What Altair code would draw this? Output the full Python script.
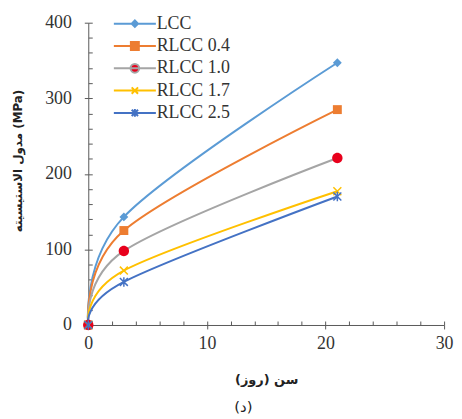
import altair as alt
import pandas as pd

# ---- data ----
days = [0, 3, 21]
series_names = ["LCC", "RLCC 0.4", "RLCC 1.0", "RLCC 1.7", "RLCC 2.5"]
lcc = [0, 143, 347]
rlcc_04 = [0, 125, 285]
rlcc_10 = [0, 98, 221]
rlcc_17 = [0, 72, 177]
rlcc_25 = [0, 57, 170]

x_major = [0, 10, 20, 30]
y_major = [0, 100, 200, 300, 400]
x_minor = list(range(0, 31, 2))
y_minor = list(range(0, 401, 20))

line_colors = ["#5B9BD5", "#ED7D31", "#A5A5A5", "#FFC000", "#4472C4"]
marker_colors = ["#5B9BD5", "#ED7D31", "#E8001C", "#FFC000", "#4472C4"]

# marker glyphs (unit box -1..1)
diamond = "M0,-1L1,0L0,1L-1,0Z"
square = "M-1,-1H1V1H-1Z"
circle = "M-1,0A1,1,0,1,0,1,0A1,1,0,1,0,-1,0Z"
cross = "M-1,-1L1,1M-1,1L1,-1"
star = "M-1,-1L1,1M-1,1L1,-1M0,-1.2V1.2"
marker_paths = [diamond, square, circle, cross, star]
marker_sizes = [80, 81, 110, 64, 64]
marker_filled = [True, True, True, False, False]

# legend glyphs: line segment + marker (legend symbol size 64 -> 1 unit = 4px)
legend_paths = [
    "M-5.3,0H5.3M0,-0.8L0.8,0L0,0.8L-0.8,0Z",
    "M-5.3,0H5.3M-1,-1H1V1H-1Z",
    "M-5.3,0H5.3M-1.1,0A1.1,1.1,0,1,0,1.1,0A1.1,1.1,0,1,0,-1.1,0Z",
    "M-5.3,0H5.3M-0.8,-0.8L0.8,0.8M-0.8,0.8L0.8,-0.8",
    "M-5.3,0H5.3M-0.8,-0.8L0.8,0.8M-0.8,0.8L0.8,-0.8M0,-1V1",
]

values = [lcc, rlcc_04, rlcc_10, rlcc_17, rlcc_25]
rows = []
for name, vals in zip(series_names, values):
    for d, v in zip(days, vals):
        rows.append({"day": d, "E": v, "series": name})
df = pd.DataFrame(rows)

AX_COLOR = "#595959"
LBL_COLOR = "#333333"
SERIF = "Liberation Serif"
FA = "DejaVu Sans"

xscale = alt.Scale(domain=[0, 30], nice=False)
yscale = alt.Scale(domain=[0, 400], nice=False)

base = alt.Chart(df)

# invisible layer that only carries the inward minor-tick axes
minor_ticks = base.mark_line(opacity=0).encode(
    x=alt.X("day:Q", scale=xscale, axis=alt.Axis(
        orient="top", offset=-305, values=x_minor, labels=False, domain=False, grid=False,
        tickSize=4, tickColor=AX_COLOR, title=None)),
    y=alt.Y("E:Q", scale=yscale, axis=alt.Axis(
        orient="right", offset=-359, values=y_minor, labels=False, domain=False, grid=False,
        tickSize=4, tickColor=AX_COLOR, title=None)),
    detail="series:N",
)

lines = base.mark_line(interpolate="cardinal", strokeWidth=2).encode(
    x=alt.X("day:Q", scale=xscale, axis=alt.Axis(
        orient="bottom", values=x_major, grid=False, tickSize=4, tickColor=AX_COLOR,
        domainColor=AX_COLOR, labelFont=SERIF, labelFontSize=18, labelColor=LBL_COLOR,
        labelPadding=6, labelFlush=False, title="سن (روز)", titleFont=FA, titleFontSize=13,
        titleFontWeight="bold", titleColor="#222222", titleX=179.5, titleY=55,
        titleBaseline="middle", titleAlign="center")),
    y=alt.Y("E:Q", scale=yscale, axis=alt.Axis(
        orient="left", values=y_major, grid=False, tickSize=4, tickColor=AX_COLOR,
        domainColor=AX_COLOR, labelFont=SERIF, labelFontSize=18, labelColor=LBL_COLOR,
        labelPadding=13, labelFlush=False, title="مدول الاستیسیته (MPa)", titleFont=FA,
        titleFontSize=12, titleFontWeight="bold", titleColor="#222222", titleX=-71,
        titleY=139, titleAngle=-90, titleBaseline="middle", titleAlign="center")),
    color=alt.Color("series:N", scale=alt.Scale(domain=series_names, range=line_colors),
                    legend=None),
)

marker_layers = []
for i, name in enumerate(series_names):
    mk = base.mark_point(shape=marker_paths[i], size=marker_sizes[i],
                         filled=marker_filled[i], opacity=1,
                         strokeWidth=0 if marker_filled[i] else 1.5)
    marker_layers.append(
        mk.transform_filter(alt.datum.series == name).encode(
            x=alt.X("day:Q", scale=xscale, axis=None),
            y=alt.Y("E:Q", scale=yscale, axis=None),
            color=alt.Color("series:N",
                            scale=alt.Scale(domain=series_names, range=marker_colors),
                            legend=None),
        )
    )

leg = alt.Legend(orient="none", legendX=38, legendY=-8, title=None, padding=0,
                 labelFont=SERIF, labelFontSize=18, labelColor=LBL_COLOR, labelLimit=300,
                 symbolSize=64, symbolStrokeWidth=2, labelOffset=13, rowPadding=4.5)

legend_layer = base.mark_point(filled=True, opacity=1, strokeWidth=2).transform_filter(
    alt.datum.day < 0
).encode(
    x=alt.X("day:Q", scale=xscale, axis=None),
    y=alt.Y("E:Q", scale=yscale, axis=None),
    fill=alt.Fill("series:N", scale=alt.Scale(domain=series_names, range=marker_colors), legend=leg),
    stroke=alt.Stroke("series:N", scale=alt.Scale(domain=series_names, range=line_colors), legend=leg),
    shape=alt.Shape("series:N", scale=alt.Scale(domain=series_names, range=legend_paths), legend=leg),
)

chart = alt.layer(minor_ticks, lines, *marker_layers, legend_layer).resolve_axis(
    x="independent", y="independent"
).resolve_scale(color="independent").properties(
    width=359, height=305, autosize="none",
    padding={"left": 81, "top": 13, "right": 10, "bottom": 91},
    title=alt.Title("(د)", orient="bottom", font=FA, fontSize=15, fontWeight="normal",
                    color="#222222", offset=14, dx=-23),
).configure_view(stroke=None)

chart.save("out.html", embed_options={"renderer": "svg", "actions": False})
